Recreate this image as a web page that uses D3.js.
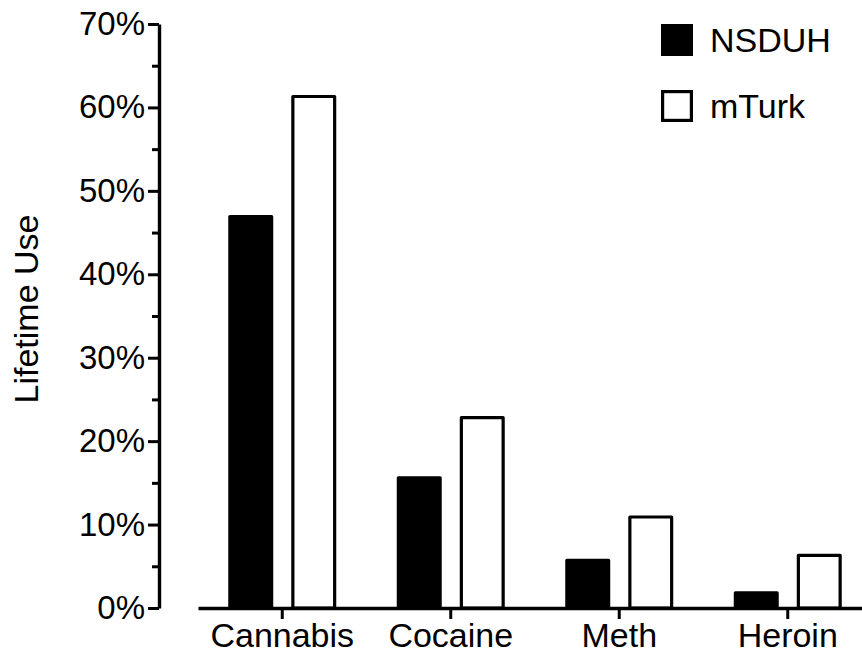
<!DOCTYPE html>
<html>
<head>
<meta charset="utf-8">
<script src="https://cdn.jsdelivr.net/npm/d3@7"></script>
<style>
  html, body { margin: 0; padding: 0; background: #fff; }
  svg { display: block; }
  text { font-family: "Liberation Sans", Arial, Helvetica, sans-serif; fill: #000; }
</style>
</head>
<body>
<svg id="chart" width="862" height="658"></svg>
<script>
const categories = ["Cannabis", "Cocaine", "Meth", "Heroin"];
const seriesNames = ["NSDUH", "mTurk"];
const nsduhValues = [47.1, 15.8, 5.9, 2.0];
const mturkValues = [61.5, 23.0, 11.1, 6.5];
const yTickValues = [0, 10, 20, 30, 40, 50, 60, 70];
const yMinorTickValues = [5, 15, 25, 35, 45, 55, 65];
const yAxisTitle = "Lifetime Use";

const svg = d3.select("#chart");

const y = d3.scaleLinear().domain([0, 70]).range([608, 24]);
const x = d3.scaleBand().domain(categories).range([198, 872]).paddingInner(0).paddingOuter(0);
const xs = d3.scaleBand().domain(seriesNames).range([-54, 54]).paddingInner(0.286);

const series = [
  { name: "NSDUH", values: nsduhValues, fill: "#000" },
  { name: "mTurk", values: mturkValues, fill: "#fff" }
];

const sw = 3.2;

// bars
series.forEach(s => {
  svg.append("g").selectAll("rect")
    .data(categories.map((c, i) => ({ c, v: s.values[i] })))
    .join("rect")
    .attr("x", d => x(d.c) + x.bandwidth() / 2 + xs(s.name) + sw / 2)
    .attr("width", xs.bandwidth() - sw)
    .attr("y", d => y(d.v) + sw / 2)
    .attr("height", d => y(0) - y(d.v) - sw / 2)
    .attr("fill", s.fill)
    .attr("stroke", "#000")
    .attr("stroke-width", sw)
    .attr("stroke-linejoin", "round");
});

// x axis
const xAxis = d3.axisBottom(x).tickSize(11).tickPadding(6).tickSizeOuter(0);
const gx = svg.append("g").attr("transform", `translate(0,${y(0)})`).call(xAxis);
gx.select(".domain").attr("stroke-width", 3.4).attr("stroke", "#000");
gx.selectAll(".tick line").attr("stroke-width", 3).attr("stroke", "#000");
gx.selectAll(".tick text").attr("font-size", 34).attr("dy", "0.66em")
  .attr("font-family", "'Liberation Sans', Arial, Helvetica, sans-serif");

// y axis
const axisX = 159;
const gyMinor = svg.append("g").attr("transform", `translate(${axisX},0)`)
  .call(d3.axisLeft(y).tickValues(yMinorTickValues).tickSize(7).tickFormat(""));
gyMinor.select(".domain").remove();
gyMinor.selectAll(".tick line").attr("stroke-width", 3).attr("stroke", "#000");

const gy = svg.append("g").attr("transform", `translate(${axisX},0)`)
  .call(d3.axisLeft(y).tickValues(yTickValues).tickSize(11).tickSizeOuter(0).tickPadding(3)
    .tickFormat(d => d + "%"));
gy.select(".domain").attr("stroke-width", 3.4).attr("stroke", "#000");
gy.selectAll(".tick line").attr("stroke-width", 3).attr("stroke", "#000");
gy.selectAll(".tick text").attr("font-size", 33)
  .attr("font-family", "'Liberation Sans', Arial, Helvetica, sans-serif");

// y title
svg.append("text")
  .attr("transform", `translate(38,309) rotate(-90)`)
  .attr("text-anchor", "middle")
  .attr("font-size", 34)
  .text(yAxisTitle);

// legend
const legend = svg.append("g");
series.forEach((s, i) => {
  const gy0 = 24 + i * 66;
  legend.append("rect")
    .attr("x", 661 + sw / 2).attr("y", gy0 + sw / 2)
    .attr("width", 32 - sw).attr("height", 32 - sw)
    .attr("fill", s.fill).attr("stroke", "#000").attr("stroke-width", sw);
  legend.append("text")
    .attr("x", 710).attr("y", gy0 + 28)
    .attr("font-size", 34)
    .text(s.name);
});
</script>
</body>
</html>
